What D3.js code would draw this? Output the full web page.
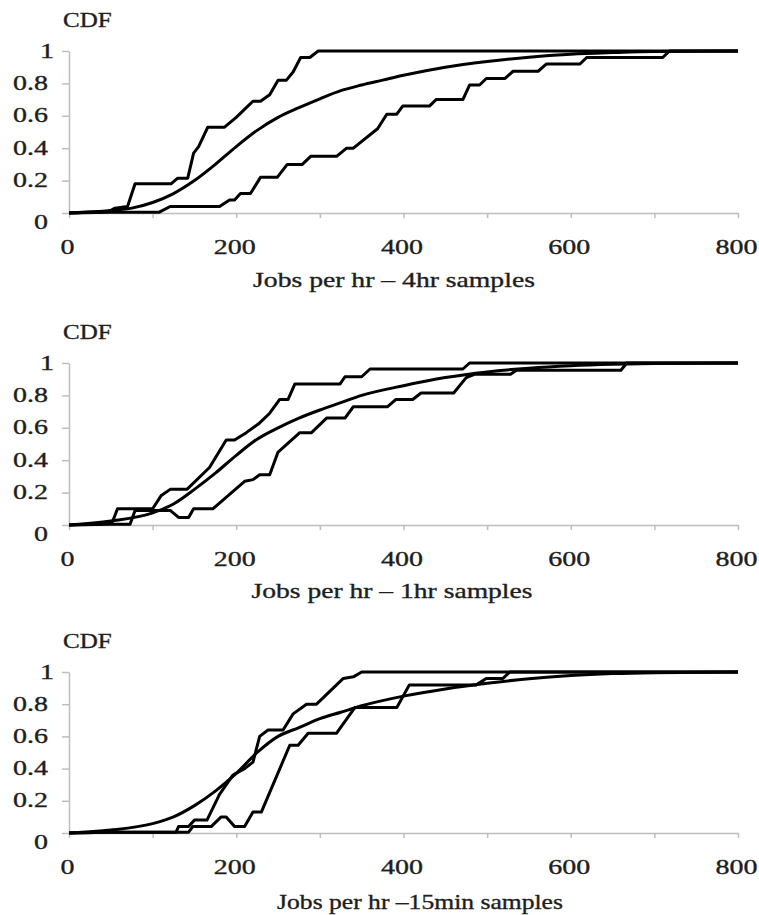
<!DOCTYPE html>
<html>
<head>
<meta charset="utf-8">
<script src="https://cdn.jsdelivr.net/npm/d3@7"></script>
<style>
  body { margin: 0; background: #fff; }
  svg text { font-family: "Liberation Serif", "Times New Roman", serif; fill: #1e1e1e; stroke: #1e1e1e; stroke-width: 0.35px; }
</style>
</head>
<body>
<div id="chart"></div>
<script>
// axis values
const xTicks = [0, 100, 200, 300, 400, 500, 600, 700, 800];
const yTicks = [0, 0.2, 0.4, 0.6, 0.8, 1];
const titles = ["Jobs per hr \u2013 4hr samples", "Jobs per hr \u2013 1hr samples", "Jobs per hr \u201315min samples"];

// 4hr samples: [jobs per hr, CDF]
const upper4h = [[0,0],[48,0.01],[55,0.03],[70,0.04],[79,0.18],[122,0.18],[130,0.215],[142,0.215],[149,0.37],[155,0.41],[166,0.53],[186,0.53],[200,0.59],[212,0.65],[220,0.69],[229,0.69],[240,0.73],[250,0.82],[260,0.82],[268,0.87],[277,0.96],[288,0.96],[298,1],[800,1]];
const fit4h = [[0,0],[50,0.015],[75,0.03],[100,0.065],[125,0.12],[150,0.2],[175,0.3],[200,0.41],[225,0.51],[250,0.59],[275,0.65],[300,0.705],[325,0.755],[350,0.79],[375,0.82],[400,0.85],[450,0.9],[500,0.935],[550,0.962],[600,0.98],[650,0.99],[700,0.997],[800,1]];
const lower4h = [[0,0],[48,0.005],[108,0.005],[121,0.04],[180,0.04],[192,0.08],[198,0.08],[205,0.12],[217,0.12],[229,0.22],[249,0.22],[261,0.3],[279,0.3],[289,0.35],[320,0.35],[332,0.4],[340,0.4],[369,0.52],[380,0.61],[392,0.61],[399,0.66],[431,0.66],[439,0.7],[471,0.7],[479,0.79],[491,0.79],[499,0.83],[521,0.83],[531,0.875],[561,0.875],[571,0.92],[611,0.92],[619,0.96],[710,0.96],[718,1],[800,1]];

// 1hr samples
const upper1h = [[0,0],[48,0.01],[52,0.02],[58,0.1],[100,0.1],[110,0.18],[121,0.22],[141,0.22],[168,0.355],[188,0.525],[198,0.525],[212,0.57],[228,0.63],[240,0.69],[252,0.775],[262,0.775],[270,0.87],[324,0.87],[330,0.915],[350,0.915],[360,0.963],[471,0.963],[479,1],[800,1]];
const fit1h = [[0,0],[50,0.025],[100,0.075],[125,0.13],[150,0.22],[175,0.32],[200,0.43],[225,0.53],[250,0.6],[275,0.66],[300,0.71],[325,0.755],[350,0.8],[400,0.86],[450,0.91],[500,0.945],[550,0.968],[600,0.983],[650,0.992],[700,0.997],[800,1]];
const lower1h = [[0,0],[48,0.005],[73,0.005],[79,0.09],[121,0.09],[131,0.047],[143,0.047],[149,0.1],[172,0.1],[210,0.27],[220,0.28],[228,0.31],[240,0.31],[250,0.45],[276,0.57],[290,0.57],[308,0.66],[330,0.66],[340,0.73],[381,0.73],[391,0.775],[411,0.775],[421,0.815],[460,0.815],[475,0.91],[485,0.93],[528,0.93],[535,0.955],[660,0.955],[667,1],[800,1]];

// 15min samples
const upper15m = [[0,0],[48,0.005],[128,0.005],[131,0.04],[143,0.04],[150,0.08],[165,0.08],[180,0.24],[196,0.36],[210,0.4],[220,0.44],[228,0.6],[238,0.64],[256,0.64],[268,0.74],[284,0.8],[296,0.8],[328,0.96],[340,0.97],[350,1],[800,1]];
const fit15m = [[0,0],[50,0.018],[100,0.058],[125,0.1],[150,0.17],[175,0.26],[200,0.37],[225,0.5],[250,0.6],[275,0.655],[300,0.71],[325,0.75],[350,0.79],[400,0.85],[450,0.895],[500,0.93],[550,0.958],[600,0.978],[650,0.99],[700,0.996],[800,1]];
const lower15m = [[0,0],[48,0.005],[143,0.005],[148,0.04],[170,0.04],[182,0.1],[188,0.1],[198,0.04],[210,0.04],[220,0.13],[230,0.13],[264,0.545],[274,0.545],[286,0.62],[320,0.62],[342,0.78],[392,0.78],[407,0.92],[487,0.92],[499,0.96],[519,0.96],[527,1],[800,1]];

// layout of the three panels
const panels = [
  { top: 51, bottom: 213, lines: [upper4h, lower4h], fit: fit4h, title: titles[0], titleX: 394, titleY: 287, titleW: 282 },
  { top: 363, bottom: 525, lines: [upper1h, lower1h], fit: fit1h, title: titles[1], titleX: 392, titleY: 598, titleW: 281 },
  { top: 672, bottom: 833, lines: [upper15m, lower15m], fit: fit15m, title: titles[2], titleX: 420, titleY: 909, titleW: 286 }
];

const width = 759, height = 915;
const svg = d3.select("#chart").append("svg")
  .attr("width", width)
  .attr("height", height);

const x = d3.scaleLinear().domain([0, 800]).range([69, 738]);
const axisGrey = "#bdbdbd";
const sx = 1.4; // text in the picture is stretched sideways

panels.forEach(p => {
  const y = d3.scaleLinear().domain([0, 1]).range([p.bottom, p.top]);
  const g = svg.append("g");

  // x axis
  const xa = g.append("g")
    .attr("transform", `translate(0,${p.bottom})`)
    .call(d3.axisBottom(x).tickValues(xTicks).tickSize(5).tickSizeOuter(0)
      .tickFormat(d => d % 200 === 0 ? d : ""));
  xa.select(".domain").attr("stroke", axisGrey).attr("stroke-width", 1.5);
  xa.selectAll(".tick line").attr("stroke", axisGrey).attr("stroke-width", 1.5);
  xa.selectAll(".tick text")
    .attr("y", 27).attr("dy", "0.71em")
    .attr("transform", `translate(-2,0) scale(${sx},1)`)
    .style("font-size", "20px");

  // y axis
  const ya = g.append("g")
    .attr("transform", `translate(${x(0)},0)`)
    .call(d3.axisLeft(y).tickValues(yTicks).tickSize(7).tickSizeOuter(0)
      .tickFormat(d => String(d)));
  ya.select(".domain").attr("stroke", axisGrey).attr("stroke-width", 1.5);
  ya.selectAll(".tick line").attr("stroke", axisGrey).attr("stroke-width", 1.5);
  ya.selectAll(".tick text")
    .attr("x", d => (d === 1 ? -15 : -21) / sx)
    .attr("dy", d => d === 0 ? "0.78em" : "0.3em")
    .attr("transform", `scale(${sx},1)`)
    .style("font-size", "20px");

  // CDF label
  g.append("text")
    .attr("transform", `translate(63,${p.top - 24}) scale(1.25,1)`)
    .style("font-size", "20px")
    .text("CDF");

  // axis title
  const t = g.append("text")
    .attr("text-anchor", "middle")
    .style("font-size", "21px")
    .text(p.title);
  const tw = t.node().getComputedTextLength();
  t.attr("transform", `translate(${p.titleX},${p.titleY}) scale(${p.titleW / tw},1)`);

  // curves
  const stepLine = d3.line().x(d => x(d[0])).y(d => y(d[1]));
  const fitLine = d3.line().x(d => x(d[0])).y(d => y(d[1])).curve(d3.curveMonotoneX);

  g.selectAll("path.step")
    .data(p.lines)
    .join("path")
    .attr("class", "step")
    .attr("d", stepLine)
    .attr("fill", "none")
    .attr("stroke", "#000")
    .attr("stroke-width", 3)
    .attr("stroke-linejoin", "round");

  g.append("path")
    .datum(p.fit)
    .attr("d", fitLine)
    .attr("fill", "none")
    .attr("stroke", "#000")
    .attr("stroke-width", 3);
});
</script>
</body>
</html>
